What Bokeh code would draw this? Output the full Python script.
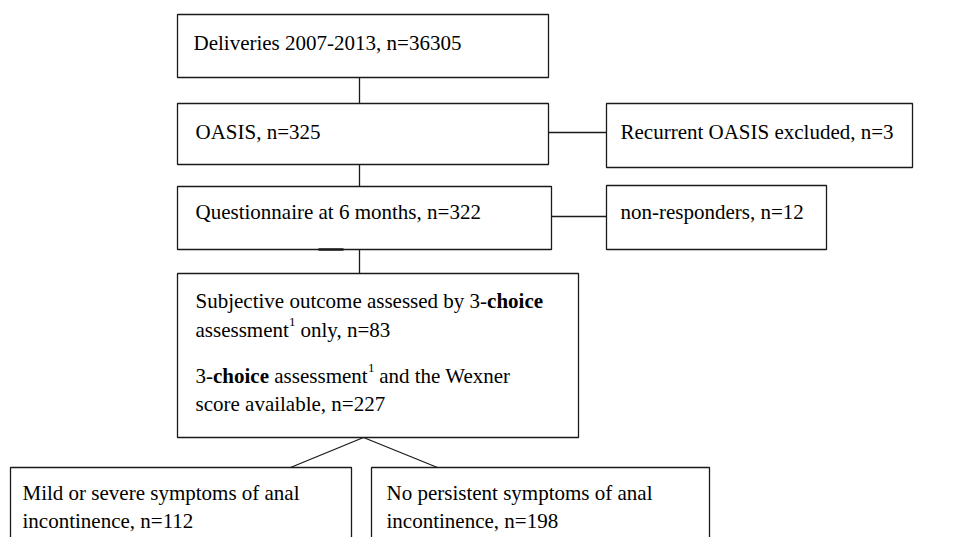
from bokeh.plotting import figure
from bokeh.models import Range1d, ColumnDataSource
from bokeh.core.properties import value
from bokeh.embed import file_html
from bokeh.resources import INLINE

# ---- data ----
stage_names = ["Deliveries 2007-2013", "OASIS", "Recurrent OASIS excluded",
               "Questionnaire at 6 months", "non-responders"]
stage_counts = [36305, 325, 3, 322, 12]

three_choice_only_n = 83
three_choice_wexner_n = 227

outcome_line1 = ["Mild or severe symptoms of anal", "No persistent symptoms of anal"]
outcome_line2 = ["incontinence", "incontinence"]
outcome_counts = [112, 198]

# ---- layout (pixel-like coordinates) ----
FONT = value("Liberation Serif")
FS = "21px"
SUP = "13px"
LC = "#1a1a1a"
LW = 1.3
W, H = 974, 537

p = figure(width=W, height=H, x_range=Range1d(0, W), y_range=Range1d(H, 0),
           output_backend="svg", toolbar_location=None, min_border=0)
p.axis.visible = False
p.xgrid.visible = False
p.ygrid.visible = False
p.outline_line_color = None
p.background_fill_color = "white"
p.border_fill_color = "white"

# boxes: left, top, right, bottom
boxes = [
    (177, 14, 548, 77),
    (177, 103, 548, 164),
    (606, 103, 912, 167),
    (177, 186, 551, 249),
    (606, 185, 826, 249),
    (177, 273, 578, 437),
    (10, 467, 351, 600),
    (371, 467, 709, 600),
]
p.quad(left=[b[0] for b in boxes], top=[b[1] for b in boxes],
       right=[b[2] for b in boxes], bottom=[b[3] for b in boxes],
       fill_color=None, line_color=LC, line_width=LW)

# connectors
conn_x = [[359, 359], [548, 606], [359, 359], [551, 606], [359, 359], [363, 290], [363, 437]]
conn_y = [[77, 103], [132, 132], [164, 186], [216, 216], [249, 273], [437, 467], [437, 467]]
p.multi_line(xs=conn_x, ys=conn_y, line_color=LC, line_width=LW)
# small thicker mark on bottom edge of questionnaire box
p.line(x=[318, 343], y=[249, 249], line_color=LC, line_width=2.6)

# stage texts
stage_x = [193, 195, 620, 195, 620]
stage_y = [42, 131, 131, 211, 211]
stage_text = [f"{n}, n={c}" for n, c in zip(stage_names, stage_counts)]
p.text(x=stage_x, y=stage_y, text=stage_text, text_font=FONT, text_font_size=FS,
       text_baseline="alphabetic", text_align="left", text_color="#000000")

# subjective outcome box: rich text segments
normal_seg = ColumnDataSource(dict(
    x=[195, 195, 300.0, 195, 273.8, 378.7, 195],
    y=[300, 329, 329, 375, 375, 375, 403],
    t=["Subjective outcome assessed by 3-", "assessment",
       f"only, n={three_choice_only_n}", "3-", "assessment", "and the Wexner",
       f"score available, n={three_choice_wexner_n}"],
))
p.text(x="x", y="y", text="t", source=normal_seg, text_font=FONT, text_font_size=FS,
       text_baseline="alphabetic", text_align="left", text_color="#000000")
bold_seg = ColumnDataSource(dict(x=[486.6, 212.5], y=[300, 375], t=["choice", "choice"]))
p.text(x="x", y="y", text="t", source=bold_seg, text_font=FONT, text_font_size=FS,
       text_font_style="bold", text_baseline="alphabetic", text_align="left",
       text_color="#000000")
sup_seg = ColumnDataSource(dict(x=[288.6, 367.4], y=[321, 367], t=["1", "1"]))
p.text(x="x", y="y", text="t", source=sup_seg, text_font=FONT, text_font_size=SUP,
       text_baseline="alphabetic", text_align="left", text_color="#000000")

# outcome boxes
out_x = [22, 386, 22, 386]
out_y = [492, 492, 520, 520]
out_t = outcome_line1 + [f"{a}, n={c}" for a, c in zip(outcome_line2, outcome_counts)]
p.text(x=out_x, y=out_y, text=out_t, text_font=FONT, text_font_size=FS,
       text_baseline="alphabetic", text_align="left", text_color="#000000")

open("out.html", "w").write(file_html(p, INLINE))
